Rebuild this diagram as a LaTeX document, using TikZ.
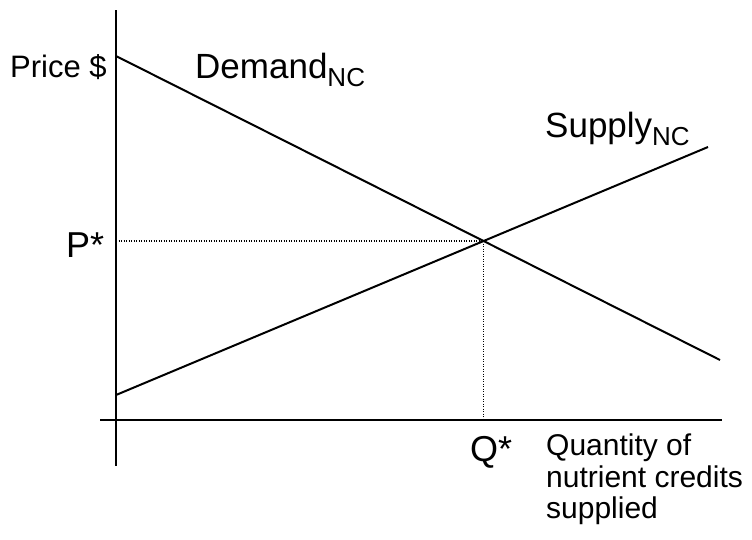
\documentclass[tikz,border=0pt]{standalone}
\usepackage{fontspec}
\setmainfont{Liberation Sans}
\usetikzlibrary{intersections}
\newcommand\mysubnc[1]{\raisebox{-8.5pt}{\fontsize{26}{26}\selectfont #1}}
\begin{document}
\begin{tikzpicture}[x=1pt,y=-1pt,
  lbl/.style={anchor=base west,inner sep=0pt,font=\fontsize{30}{32}\selectfont},
  biglbl/.style={lbl,font=\fontsize{35}{37}\selectfont},
  starlbl/.style={lbl,font=\fontsize{36}{38}\selectfont},
  axisline/.style={line width=2pt},
  curveline/.style={line width=2pt},
  guide/.style={line width=1.2pt,dash pattern=on 1pt off 1.5pt}]
\useasboundingbox (0,0) rectangle (752,539);
% axes
\coordinate (ytop) at (116,10);
\coordinate (ybot) at (116,466);
\coordinate (xl) at (100,420);
\coordinate (xr) at (722,420);
\draw[axisline] (ytop) -- (ybot);
\draw[axisline] (xl) -- (xr);
% curves
\coordinate (d1) at (116,56);
\coordinate (d2) at (720,360);
\coordinate (s1) at (116,395);
\coordinate (s2) at (708,147);
\draw[curveline] (d1) -- (d2);
\draw[curveline] (s1) -- (s2);
\coordinate (E) at (intersection of d1--d2 and s1--s2);
\coordinate (pstar) at (ytop|-E);
\coordinate (qstar) at (E|-xl);
\draw[guide] (pstar) -- (E);
\draw[guide] (E) -- (qstar);
% labels
\node[lbl,font=\fontsize{31}{33}\selectfont] (price) at (10,77) {Price \$};
\node[biglbl] (dem) at (195,78) {Demand\mysubnc{NC}};
\node[biglbl] (sup) at (545,137) {Supply\mysubnc{NC}};
\node[starlbl] (pl) at (66,257) {P*};
\node[starlbl] (ql) at (470,461) {Q*};
\node[lbl] (q1) at (546,455) {Quantity of};
\node[lbl] (q2) at (546,487) {nutrient credits};
\node[lbl] (q3) at (546,518) {supplied};
\end{tikzpicture}
\end{document}
